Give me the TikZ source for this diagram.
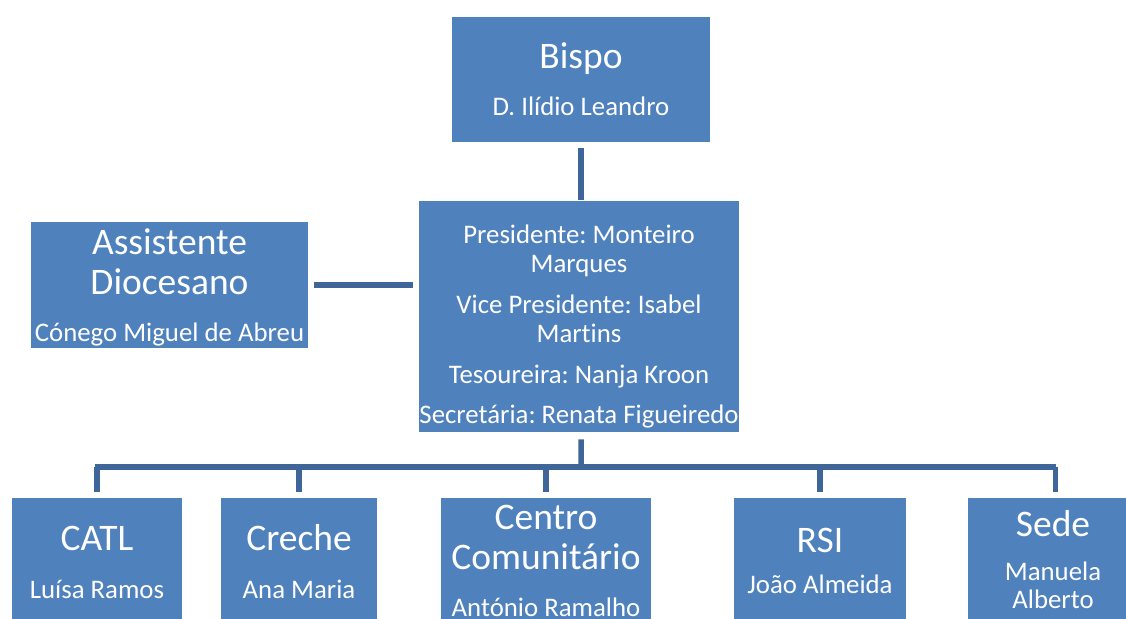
\documentclass[tikz,border=0pt]{standalone}
\usepackage{fontspec}
\setmainfont{Carlito}[Ligatures=NoCommon]
\frenchspacing
\definecolor{boxblue}{HTML}{4F81BD}
\definecolor{linkblue}{HTML}{3F6698}
\begin{document}
\begin{tikzpicture}[x=1pt,y=-1pt,
  box/.style={fill=boxblue,draw=none,inner sep=0pt,anchor=north west},
  ttl/.style={text=white,anchor=base,inner sep=0pt,font=\fontsize{37.5}{40}\selectfont},
  sub/.style={text=white,anchor=base,inner sep=0pt,font=\fontsize{26.8}{28}\selectfont},
  conn/.style={draw=linkblue,line width=5.5pt}]
\useasboundingbox (0,0) rectangle (1126,618);
\clip (0,0) rectangle (1126,618);
% boxes
\node[box,minimum width=258,minimum height=125] (bispo) at (452,17) {};
\node[box,minimum width=320,minimum height=231] (dir) at (419,201) {};
\node[box,minimum width=277,minimum height=126] (assist) at (31,222) {};
\node[box,minimum width=170,minimum height=135] (catl) at (12,498) {};
\node[box,minimum width=156,minimum height=135] (creche) at (221,498) {};
\node[box,minimum width=210,minimum height=135] (centro) at (441,498) {};
\node[box,minimum width=172,minimum height=135] (rsi) at (734,498) {};
\node[box,minimum width=170,minimum height=135] (sede) at (968,498) {};
% texts
\node[ttl] (t1) at (581,69) {Bispo};
\node[sub] (t2) at (581,115.5) {D. Ilídio Leandro};
\node[sub] (t3) at (579,243.5) {Presidente: Monteiro};
\node[sub] (t4) at (579,272.5) {Marques};
\node[sub] (t5) at (579,313.5) {Vice Presidente: Isabel};
\node[sub] (t6) at (579,342.5) {Martins};
\node[sub] (t7) at (579,383.5) {Tesoureira: Nanja Kroon};
\node[sub] (t8) at (579,423.5) {Secretária: Renata Figueiredo};
\node[ttl] (t9) at (169.5,254) {Assistente};
\node[ttl] (t10) at (169.5,294) {Diocesano};
\node[sub] (t11) at (169.5,341.5) {Cónego Miguel de Abreu};
\node[ttl] (t12) at (97,550) {CATL};
\node[sub] (t13) at (97,598.5) {Luísa Ramos};
\node[ttl] (t14) at (299,550) {Creche};
\node[sub] (t15) at (299,598.5) {Ana Maria};
\node[ttl] (t16) at (546,529) {Centro};
\node[ttl] (t17) at (546,569) {Comunitário};
\node[sub] (t18) at (546,616) {António Ramalho};
\node[ttl] (t19) at (820,552) {RSI};
\node[sub] (t20) at (820,593.5) {João Almeida};
\node[ttl] (t21) at (1053,536) {Sede};
\node[sub] (t22) at (1053,580.5) {Manuela};
\node[sub] (t23) at (1053,608.5) {Alberto};
% connectors
\coordinate (busL) at (95,467);
\coordinate (busR) at (1055.5,467);
\coordinate (busM) at (581,467);
\draw[conn] ([yshift=-6]bispo.south) -- ([xshift=2,yshift=1]dir.north);
\draw[conn] ([xshift=6]assist.east) -- ([xshift=-6]dir.west |- assist.east);
\draw[conn] ([xshift=2,yshift=-7]dir.south) -- (busM);
\draw[conn] (busL) -- (busR);
\draw[conn] (busL -| catl.north) -- ([yshift=6]catl.north);
\draw[conn] (busL -| creche.north) -- ([yshift=6]creche.north);
\draw[conn] (busL -| centro.north) -- ([yshift=6]centro.north);
\draw[conn] (busL -| rsi.north) -- ([yshift=6]rsi.north);
\coordinate (sedetop) at (sede.north);
\draw[conn] (busR) -- ([yshift=6]busR |- sedetop);
\end{tikzpicture}
\end{document}
